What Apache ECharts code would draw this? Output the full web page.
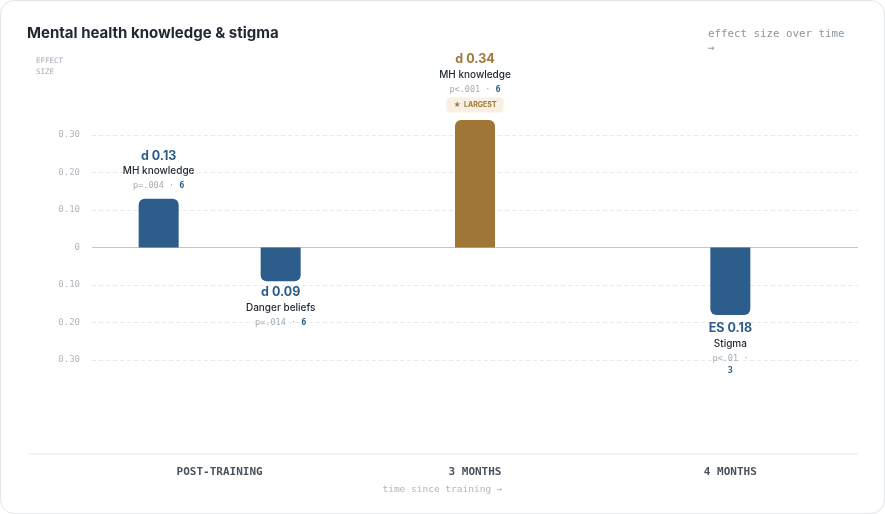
<!DOCTYPE html>
<html lang="en">
<head>
    <meta charset="UTF-8">
    <title>Mental health knowledge & stigma</title>
    <script src="https://cdn.jsdelivr.net/npm/echarts@6/dist/echarts.min.js"></script>
    <style>
        html, body { margin: 0; padding: 0; background: #fff; }
        #card {
            position: absolute; left: 0; top: 0;
            width: 883px; height: 512px;
            border: 1px solid #e3e5e8; border-radius: 14px;
            overflow: hidden; background: #fff;
        }
        #main { width: 883px; height: 512px; }
    </style>
</head>
<body>
<div id="card"><div id="main"></div></div>
<script type="text/javascript">
    // timepoints on the x axis
    var timepoints = ['POST-TRAINING', '3 MONTHS', '4 MONTHS'];
    // y ticks (shown as absolute values)
    var yTicks = [-0.3, -0.2, -0.1, 0, 0.1, 0.2, 0.3];

    // post-training pair: knowledge (up) and danger beliefs (down)
    var pairValues = [0.13, -0.09];
    var pairMeasures = ['MH knowledge', 'Danger beliefs'];
    var pairStat = ['d', 'd'];
    var pairP = ['p=.004', 'p=.014'];
    var pairN = ['6', '6'];

    // follow-up bars: 3 months, 4 months
    var laterValues = [0.34, -0.18];
    var laterMeasures = ['MH knowledge', 'Stigma'];
    var laterStat = ['d', 'ES'];
    var laterP = ['p<.001', 'p<.01'];
    var laterN = ['6', '3'];
    var largestIndex = 0;

    var BLUE = '#2d5d8a', GOLD = '#a07637';
    var MONO = '"DejaVu Sans Mono", "Liberation Mono", monospace';
    var SANS = 'Inter, "Noto Sans", sans-serif';

    var rich = {
        vb: {fontFamily: SANS, fontSize: 12.5, fontWeight: 700, color: BLUE, lineHeight: 16},
        vg: {fontFamily: SANS, fontSize: 12.5, fontWeight: 700, color: GOLD, lineHeight: 16},
        nm: {fontFamily: SANS, fontSize: 10, fontWeight: 500, color: '#1f2733', lineHeight: 15},
        p: {fontFamily: MONO, fontSize: 8.5, color: '#a3abb3', lineHeight: 15},
        n: {fontFamily: MONO, fontSize: 8.5, fontWeight: 700, color: BLUE, lineHeight: 15},
        n2: {fontFamily: MONO, fontSize: 8.5, fontWeight: 700, color: BLUE, lineHeight: 10},
        badge: {
            fontFamily: SANS, fontSize: 7, fontWeight: 700, color: GOLD,
            backgroundColor: '#f8f0e2', borderRadius: 4, padding: [4, 7, 4, 7], lineHeight: 16
        }
    };

    function makeItem(v, stat, measure, p, n, gold, badge, wrapN) {
        var lines = [
            '{' + (gold ? 'vg' : 'vb') + '|' + stat + ' ' + Math.abs(v).toFixed(2) + '}',
            '{nm|' + measure + '}',
            wrapN ? '{p|' + p + ' ·}\n{n2|' + n + '}' : '{p|' + p + ' · }{n|' + n + '}'
        ];
        if (badge) lines.push('{badge|★  LARGEST}');
        return {
            value: v,
            itemStyle: {
                color: gold ? GOLD : BLUE,
                borderRadius: v >= 0 ? [6, 6, 0, 0] : [0, 0, 6, 6]
            },
            label: {
                show: true,
                position: v >= 0 ? 'top' : 'bottom',
                distance: v >= 0 ? (badge ? 7 : 5) : (wrapN ? 5 : 3),
                formatter: lines.join('\n'),
                rich: rich,
                align: 'center'
            }
        };
    }

    var pairSeries = pairValues.map(function (v, i) {
        return {
            type: 'bar',
            xAxisIndex: 1,
            barWidth: 40,
            barGap: '205%',
            clip: false,
            z: 3,
            data: [makeItem(v, pairStat[i], pairMeasures[i], pairP[i], pairN[i], false, false, false), '-', '-']
        };
    });

    var laterData = ['-'].concat(laterValues.map(function (v, i) {
        var isLargest = i === largestIndex;
        return makeItem(v, laterStat[i], laterMeasures[i], laterP[i], laterN[i], isLargest, isLargest, laterMeasures[i] === 'Stigma');
    }));

    var myChart = echarts.init(document.getElementById('main'));
    var option = {
        animation: false,
        title: {
            text: 'Mental health knowledge & stigma',
            left: 21, top: 20,
            textStyle: {fontFamily: SANS, fontSize: 15, fontWeight: 700, color: '#1f2733'}
        },
        grid: {left: 91, right: 26, top: 134, bottom: 153},
        xAxis: [
            {
                type: 'category', data: timepoints, position: 'bottom',
                axisLine: {show: false}, axisTick: {show: false},
                axisLabel: {
                    margin: 107, fontFamily: MONO, fontSize: 11, fontWeight: 600, color: '#4a525d'
                }
            },
            {type: 'category', data: timepoints, show: false},
            {type: 'category', data: timepoints, show: false}
        ],
        yAxis: {
            type: 'value',
            min: yTicks[0], max: yTicks[yTicks.length - 1], interval: 0.1,
            axisLine: {show: false}, axisTick: {show: false},
            axisLabel: {
                margin: 12, fontFamily: MONO, fontSize: 9, color: '#b0b6bd',
                formatter: function (v) {
                    return Math.abs(v) < 1e-9 ? '0' : Math.abs(v).toFixed(2);
                }
            },
            splitLine: {lineStyle: {color: '#e8eaed', type: [4, 3]}}
        },
        series: pairSeries.concat([{
            type: 'bar',
            xAxisIndex: 2,
            barWidth: 40,
            clip: false,
            z: 3,
            data: laterData,
            markLine: {
                silent: true,
                symbol: 'none',
                z: 2,
                label: {show: false},
                lineStyle: {color: '#c3c7cc', type: 'solid', width: 1},
                data: [{yAxis: 0}]
            }
        }]),
        graphic: [
            {
                type: 'text', left: 35, top: 55,
                style: {text: 'EFFECT\nSIZE', fontFamily: MONO, fontSize: 7.5, lineHeight: 11, fill: '#a3abb3'}
            },
            {
                type: 'text', left: 707, top: 26,
                style: {text: 'effect size over time\n→', fontFamily: MONO, fontSize: 10.8, lineHeight: 14, fill: '#8c959e'}
            },
            {
                type: 'line', shape: {x1: 27, y1: 453, x2: 857, y2: 453},
                style: {stroke: '#e6e8eb', lineWidth: 1}
            },
            {
                type: 'text', left: 'center', top: 484,
                style: {text: 'time since training →', fontFamily: MONO, fontSize: 9.5, fill: '#b0b6bd'}
            }
        ]
    };
    myChart.setOption(option);
</script>
</body>
</html>
